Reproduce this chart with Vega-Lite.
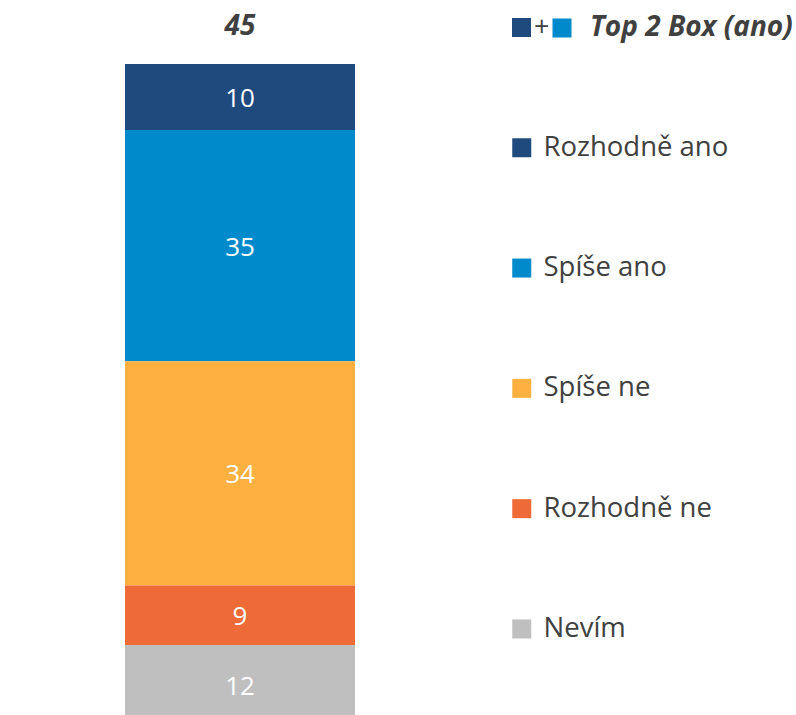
{
  "$schema": "https://vega.github.io/schema/vega-lite/v6.json",
  "width": 796,
  "height": 715,
  "padding": 0,
  "autosize": {"type": "none"},
  "background": "white",
  "config": {"view": {"stroke": null}, "font": "Open Sans"},
  "datasets": {
    "resp": [
      {"group": "Celkem", "answer": "Rozhodně ano", "value": 10, "order": 5},
      {"group": "Celkem", "answer": "Spíše ano", "value": 35, "order": 4},
      {"group": "Celkem", "answer": "Spíše ne", "value": 34, "order": 3},
      {"group": "Celkem", "answer": "Rozhodně ne", "value": 9, "order": 2},
      {"group": "Celkem", "answer": "Nevím", "value": 12, "order": 1}
    ],
    "top2": [
      {"group": "Celkem", "label": "Top 2 Box (ano)", "sign": "+", "value": 45}
    ]
  },
  "layer": [
    {
      "data": {"name": "resp"},
      "mark": {"type": "bar", "clip": true},
      "encoding": {
        "x": {"field": "group", "type": "nominal", "axis": null,
              "scale": {"domain": ["Celkem"], "range": [125, 355], "paddingInner": 0, "paddingOuter": 0}},
        "y": {"field": "value", "type": "quantitative", "stack": "zero", "axis": null,
              "scale": {"domain": [1.4, 109.7], "nice": false, "zero": false}},
        "order": {"field": "order", "type": "quantitative"},
        "color": {
          "field": "answer", "type": "nominal",
          "scale": {"domain": ["Rozhodně ano", "Spíše ano", "Spíše ne", "Rozhodně ne", "Nevím"],
                    "range": ["#1F4A7E", "#0089CB", "#FBB040", "#EE6A36", "#BFBFBF"]},
          "legend": {"orient": "none", "legendX": 508, "legendY": 134, "title": null,
                     "symbolType": "square", "symbolSize": 361, "symbolStrokeWidth": 0,
                     "labelFontSize": 27.5, "labelColor": "#404040", "labelOffset": 8, "labelLimit": 0,
                     "rowPadding": 91.3, "padding": 0, "labelFont": "Open Sans"}
        }
      }
    },
    {
      "data": {"name": "resp"},
      "transform": [
        {"stack": "value", "groupby": ["group"], "sort": [{"field": "order"}], "as": ["v0", "v1"]},
        {"calculate": "(datum.v0 + datum.v1) / 2", "as": "mid"}
      ],
      "mark": {"type": "text", "color": "white", "fontSize": 26, "baseline": "middle", "align": "center", "dy": 2, "font": "Open Sans"},
      "encoding": {
        "x": {"field": "group", "type": "nominal"},
        "y": {"field": "mid", "type": "quantitative"},
        "text": {"field": "value", "type": "quantitative"}
      }
    },
    {
      "data": {"name": "top2"},
      "mark": {"type": "text", "color": "#404040", "fontSize": 28, "fontWeight": "bold", "fontStyle": "italic", "baseline": "middle", "align": "center", "dy": 3, "font": "Open Sans"},
      "encoding": {
        "x": {"field": "group", "type": "nominal"},
        "y": {"datum": 106, "type": "quantitative"},
        "text": {"field": "value", "type": "quantitative"}
      }
    },
    {
      "data": {"name": "top2"},
      "mark": {"type": "point", "filled": true, "size": 0, "color": "#1F4A7E"},
      "encoding": {
        "x": {"field": "group", "type": "nominal"},
        "y": {"datum": 106, "type": "quantitative"},
        "shape": {"field": "sign", "type": "nominal", "scale": {"range": ["square"]},
                  "legend": {"orient": "none", "legendX": 508, "legendY": 14, "title": null,
                             "symbolSize": 361, "symbolFillColor": "#1F4A7E", "symbolStrokeWidth": 0,
                             "symbolOpacity": 1,
                             "labelFontSize": 27, "labelColor": "#404040", "labelOffset": -1, "padding": 0, "labelFont": "Open Sans"}}
      }
    },
    {
      "data": {"name": "top2"},
      "mark": {"type": "point", "filled": true, "size": 0, "color": "#0089CB"},
      "encoding": {
        "x": {"field": "group", "type": "nominal"},
        "y": {"datum": 106, "type": "quantitative"},
        "opacity": {"field": "label", "type": "ordinal", "scale": {"range": [1, 1]},
                    "legend": {"orient": "none", "legendX": 548, "legendY": 14, "title": null,
                               "symbolType": "square", "symbolSize": 361, "symbolFillColor": "#0089CB", "symbolStrokeWidth": 0,
                               "labelFontSize": 28, "labelFontWeight": "bold", "labelFontStyle": "italic", "labelLimit": 0,
                               "labelColor": "#404040", "labelOffset": 14, "padding": 0, "labelFont": "Open Sans"}}
      }
    }
  ]
}
